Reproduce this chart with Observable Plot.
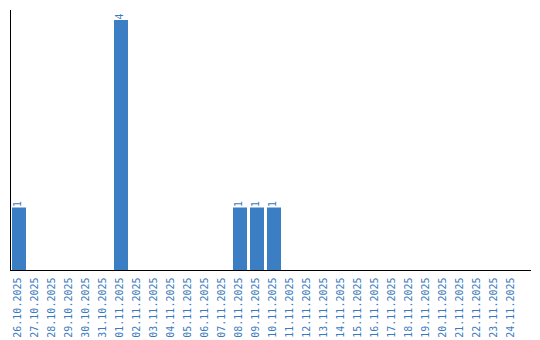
<!DOCTYPE html>
<html>
<head>
<meta charset="utf-8">
<script src="https://cdn.jsdelivr.net/npm/d3@7"></script>
<script src="https://cdn.jsdelivr.net/npm/@observablehq/plot@0.6"></script>
<style>
  html, body { margin: 0; padding: 0; background: #fff; }
</style>
</head>
<body>
<div id="chart"></div>
<script>
const dates = ["26.10.2025","27.10.2025","28.10.2025","29.10.2025","30.10.2025","31.10.2025","01.11.2025","02.11.2025","03.11.2025","04.11.2025","05.11.2025","06.11.2025","07.11.2025","08.11.2025","09.11.2025","10.11.2025","11.11.2025","12.11.2025","13.11.2025","14.11.2025","15.11.2025","16.11.2025","17.11.2025","18.11.2025","19.11.2025","20.11.2025","21.11.2025","22.11.2025","23.11.2025","24.11.2025"];
const counts = [1,0,0,0,0,0,4,0,0,0,0,0,0,1,1,1,0,0,0,0,0,0,0,0,0,0,0,0,0,0];

const data = dates.map((d, i) => ({date: d, count: counts[i]}));
const nonZero = data.filter(d => d.count > 0);

const blue = "#3b7ec4";
const textBlue = "#3a7bc0";

const chart = Plot.plot({
  width: 540,
  height: 340,
  marginLeft: 10,
  marginRight: 10,
  marginTop: 10,
  marginBottom: 70,
  style: {fontFamily: "'DejaVu Sans Mono', monospace", fontSize: "10px", background: "#fff"},
  x: {domain: dates, paddingInner: 0.18, paddingOuter: 0.09, insetRight: 10, label: null},
  y: {domain: [0, 4.16], axis: null},
  marks: [
    Plot.barY(data, {x: "date", y: "count", fill: blue}),
    Plot.text(nonZero, {x: "date", y: "count", text: d => String(d.count), rotate: -90, textAnchor: "start", lineAnchor: "middle", dx: -2, dy: -1, fill: textBlue, fontSize: 10}),
    Plot.axisX({tickRotate: -90, tickSize: 0, tickPadding: 7, dx: -2, fill: textBlue, fontSize: 10, label: null}),
    Plot.frame({anchor: "left", stroke: "#000"}),
    Plot.frame({anchor: "bottom", stroke: "#000"})
  ]
});
document.getElementById("chart").appendChild(chart);
</script>
</body>
</html>
